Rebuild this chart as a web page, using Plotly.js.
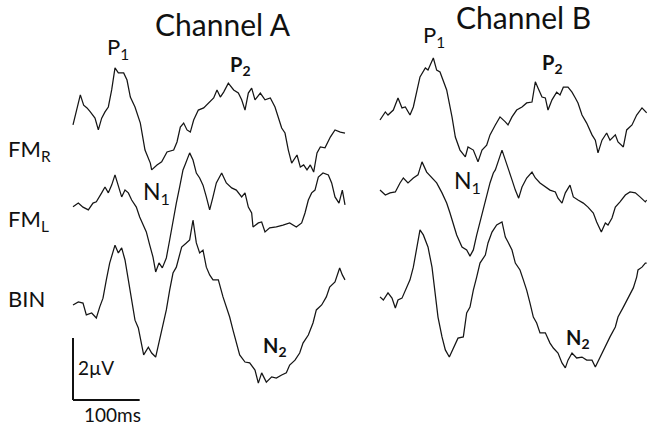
<!DOCTYPE html>
<html><head><meta charset="utf-8">
<script src="https://cdn.plot.ly/plotly-3.0.1.min.js"></script>
<style>html,body{margin:0;padding:0;background:#fff;}#chart{width:647px;height:427px;}</style>
</head><body><div id="chart"></div>
<script>
// ---- data: time (ms) and amplitude (µV) ----
const tA_FMR = [0,11,16,21,26,33,38,43,48,53,58,63,68,76,81,86,93,101,108,116,118,126,133,141,151,156,161,166,171,176,181,188,196,203,211,216,221,226,233,241,248,253,258,263,268,273,281,288,296,303,308,313,318,323,328,336,341,346,351,356,361,366,371,378,386,393,401,408];
const vA_FMR = [-0.16,0.81,0.48,0.39,0.26,0.06,-0.32,0.06,0.26,0.42,0.97,1.68,1.52,1.52,1.29,0.74,0.42,-0.10,-0.97,-1.39,-1.61,-1.45,-1.35,-1.03,-0.97,-0.71,-0.23,-0.10,-0.32,-0.39,0,0.32,0.39,0.55,0.71,0.97,0.74,0.90,1.19,0.97,0.87,0.65,0.32,0.87,1.03,0.65,0.87,0.65,0.71,0.42,0.10,-0.26,-0.42,-0.97,-1.39,-1.13,-1.52,-1.45,-1.61,-1.45,-1.68,-1.06,-0.87,-0.90,-0.55,-0.32,-0.39,-0.42];
const tA_FML = [0,8,15,23,30,35,43,48,53,58,63,68,73,78,83,88,95,100,105,110,115,120,124,129,134,140,145,150,155,160,165,168,175,180,185,190,195,200,205,210,215,223,230,238,245,253,258,263,268,270,278,283,288,295,305,315,325,335,343,348,353,358,363,368,375,383,388,393,399,404,408];
const vA_FML = [-0.22,-0.10,-0.23,-0.32,-0.10,-0.06,0.23,0.42,0.23,0.48,0.81,0.42,0.10,0.32,0.23,0,-0.23,-0.55,-0.81,-1.03,-1.45,-1.84,-2.32,-2.03,-2.19,-1.87,-1.29,-0.65,-0.10,0.42,0.97,1.13,1.52,1.29,0.87,0.71,0.48,0.10,-0.32,0.10,0.55,0.87,0.55,0.39,0.32,0.10,0.23,-0.23,-0.42,-0.87,-0.74,-0.71,-1.03,-0.90,-0.87,-0.81,-0.74,-0.87,-0.74,-0.42,0,0.23,0.32,0.74,0.87,0.81,0.55,0.10,-0.10,0.32,-0.16];
const tA_BIN = [0,8,15,20,28,35,40,45,50,55,63,68,73,78,83,88,93,98,103,106,113,118,124,130,135,140,145,150,155,163,170,175,180,185,190,195,200,205,210,218,225,230,235,240,245,250,258,265,273,278,283,290,298,305,313,320,325,333,340,345,353,360,365,373,380,385,393,400,404,408];
const vA_BIN = [-0.16,-0.06,-0.10,-0.48,-0.42,-0.58,-0.23,0.06,0.65,1.19,1.77,1.52,1.68,1.29,0.65,0,-0.65,-0.90,-1.39,-1.77,-1.52,-1.71,-1.84,-1.29,-0.87,-0.32,0.32,0.87,1.06,1.71,1.84,1.94,2.58,1.84,1.52,1.61,1.06,0.81,0.65,0.65,0.10,-0.23,-0.55,-0.97,-1.39,-1.77,-2.00,-2.03,-2.26,-2.68,-2.35,-2.65,-2.48,-2.52,-2.42,-2.35,-2.10,-1.94,-1.71,-1.39,-1.13,-0.74,-0.32,-0.16,0.10,0.42,0.58,1.03,0.81,0.65];
const tB_FMR = [0,8,12,20,27,33,38,45,50,55,60,68,72,80,85,90,95,100,108,113,120,128,132,140,147,153,160,165,173,180,188,192,198,205,213,220,228,233,237,243,248,252,258,265,270,275,282,288,293,297,303,310,318,323,327,333,340,345,353,357,365,370,378,385,393,400];
const vB_FMR = [0,0.26,0.16,0.32,0.71,0.39,0.42,0.16,0.42,0.90,1.39,1.68,1.61,2.00,1.61,1.55,1.29,0.97,0.10,-0.55,-0.97,-1.19,-0.87,-0.97,-1.35,-0.97,-0.81,-0.48,-0.16,0.10,-0.06,-0.16,0.10,0.32,0.42,0.55,0.58,1.23,1.03,0.74,0.71,0.32,0.65,0.90,0.81,1.06,1.06,0.90,0.71,0.55,0.16,-0.10,-0.48,-0.65,-1.06,-0.65,-0.42,-0.65,-0.48,-0.71,-0.87,-0.32,-0.16,0.16,0.39,0.23];
const tB_FML = [0,8,15,23,30,35,42,50,57,63,70,78,85,93,100,105,110,115,123,130,135,140,145,150,155,160,165,170,173,183,190,198,203,208,213,220,228,233,240,248,255,263,267,273,278,285,290,297,305,312,320,325,332,338,342,348,353,360,368,375,383,390,398,400];
const vB_FML = [0.32,0.16,0.23,0.26,0.55,0.71,0.55,0.71,0.81,1.23,0.90,0.71,0.55,0.23,-0.10,-0.42,-0.81,-1.13,-1.52,-1.61,-1.81,-1.61,-1.13,-0.71,-0.32,0.10,0.55,0.87,0.97,1.61,1.19,0.65,0.32,0.06,0.42,0.71,0.90,0.71,0.55,0.42,0.32,0.26,0.06,-0.10,0.23,0.48,0.10,0,-0.10,-0.23,-0.42,-0.71,-1.03,-0.74,-0.81,-0.58,-0.23,-0.06,0.16,0.26,0.23,0.10,-0.06,0];
const tB_BIN = [0,5,12,18,23,27,33,38,45,50,55,60,65,72,78,83,87,93,98,104,110,117,125,130,135,140,145,150,158,162,168,175,183,188,192,198,203,210,215,220,225,230,235,240,248,255,260,267,273,278,282,288,295,303,310,318,323,330,338,345,353,357,365,373,380,385,387,393,398,400];
const vB_BIN = [0.10,0,0.23,0.06,-0.26,0,0.06,0.32,0.65,1.06,1.71,2.26,2.10,1.71,1.06,0.23,-0.55,-1.19,-1.61,-1.84,-1.55,-1.23,-1.19,-0.42,-0.23,0.32,0.74,1.19,1.45,1.84,2.19,2.42,2.52,2.03,1.87,1.61,1.19,0.97,0.65,0.32,-0.10,-0.55,-0.74,-1.06,-1.06,-1.39,-1.55,-1.71,-2.03,-2.19,-1.94,-1.71,-1.87,-1.84,-1.94,-1.94,-2.16,-1.84,-1.52,-1.19,-0.87,-0.55,-0.23,0.10,0.39,0.74,0.97,1.06,1.19,1.19];

const channelTitles = ['Channel A', 'Channel B'];
const rowLabels = ['FM<sub>R</sub>', 'FM<sub>L</sub>', 'BIN'];
const SCALE_MS = 100, SCALE_UV = 2;
const scaleLabels = ['2µV', '100ms'];

// ---- layout geometry (pixels) ----
const W = 647, H = 427;
const MS_PER_PX = 1.5, PX_PER_UV = 31;
const colOrigin = [73, 380];          // x pixel of t = 0 for each channel
const rowBase = [120, 200, 300];      // y pixel of 0 µV for each row
const xr = o => [(0 - o) * MS_PER_PX, (W - o) * MS_PER_PX];
const yr = b => [(b - H) / PX_PER_UV, b / PX_PER_UV];
const hidden = {visible: false, fixedrange: true};

const lineStyle = {color: '#151515', width: 1.25};
const series = [
  [tA_FMR, vA_FMR, 'x', 'y'], [tA_FML, vA_FML, 'x', 'y2'], [tA_BIN, vA_BIN, 'x', 'y3'],
  [tB_FMR, vB_FMR, 'x2', 'y'], [tB_FML, vB_FML, 'x2', 'y2'], [tB_BIN, vB_BIN, 'x2', 'y3']
];
const data = series.map(s => ({x: s[0], y: s[1], xaxis: s[2], yaxis: s[3], type: 'scatter', mode: 'lines', line: lineStyle, hoverinfo: 'skip'}));

const FONT = 'Lato, "Noto Sans", sans-serif';
function ann(text, x, y, size, extra) {
  return Object.assign({text: text, xref: 'paper', yref: 'paper', x: x / W, y: 1 - y / H,
    xanchor: 'center', yanchor: 'middle', showarrow: false,
    font: {family: FONT, size: size, color: '#111'}}, extra || {});
}
const annotations = [
  ann(channelTitles[0], 223, 24, 30),
  ann(channelTitles[1], 523, 17, 30),
  ann('P<sub>1</sub>', 118, 48, 22),
  ann('P<sub>1</sub>', 434, 36, 22),
  ann('<b>P<sub>2</sub></b>', 240, 66, 20),
  ann('<b>P<sub>2</sub></b>', 552, 64, 20),
  ann('N<sub>1</sub>', 156, 192, 23),
  ann('N<sub>1</sub>', 467, 181, 23),
  ann('<b>N<sub>2</sub></b>', 275, 346, 20),
  ann('<b>N<sub>2</sub></b>', 578, 338, 20),
  ann(rowLabels[0], 6, 150, 22, {xanchor: 'left'}),
  ann(rowLabels[1], 6, 220, 22, {xanchor: 'left'}),
  ann(rowLabels[2], 6, 298, 22, {xanchor: 'left'}),
  ann(scaleLabels[0], 76, 367, 19, {xanchor: 'left'}),
  ann(scaleLabels[1], 113, 414, 19)
];

const scaleBottom = (rowBase[2] - 400) / PX_PER_UV;
const shapes = [
  {type: 'line', xref: 'x', yref: 'y3', x0: 0, x1: 0, y0: scaleBottom, y1: scaleBottom + SCALE_UV, line: {color: '#111', width: 2}},
  {type: 'line', xref: 'x', yref: 'y3', x0: 0, x1: SCALE_MS, y0: scaleBottom, y1: scaleBottom, line: {color: '#111', width: 2}}
];

const layout = {
  width: W, height: H, margin: {l: 0, r: 0, t: 0, b: 0, pad: 0},
  paper_bgcolor: '#fff', plot_bgcolor: '#fff', showlegend: false,
  xaxis: Object.assign({range: xr(colOrigin[0]), domain: [0, 1]}, hidden),
  xaxis2: Object.assign({range: xr(colOrigin[1]), overlaying: 'x'}, hidden),
  yaxis: Object.assign({range: yr(rowBase[0]), domain: [0, 1]}, hidden),
  yaxis2: Object.assign({range: yr(rowBase[1]), overlaying: 'y'}, hidden),
  yaxis3: Object.assign({range: yr(rowBase[2]), overlaying: 'y'}, hidden),
  annotations: annotations, shapes: shapes
};
Plotly.newPlot('chart', data, layout, {staticPlot: true, displayModeBar: false});
</script></body></html>
